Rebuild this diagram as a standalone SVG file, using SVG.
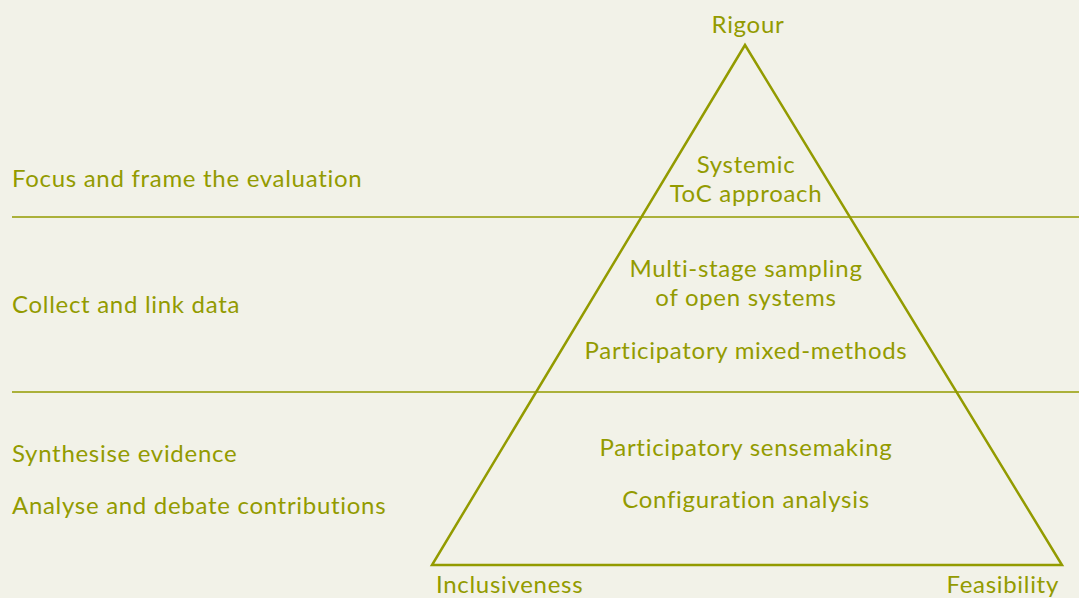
<svg xmlns="http://www.w3.org/2000/svg" width="1079" height="598" viewBox="0 0 1079 598">
  <style>
    .bg { fill: #f2f2e8; }
    .ln { stroke: #939b00; stroke-width: 1.6; fill: none; }
    .tri { stroke: #939b00; stroke-width: 2.5; fill: none; }
    text { font-family: "Lato", "Liberation Sans", sans-serif; font-size: 24px; letter-spacing: 0.7px; fill: #939b00; }
    .mid { text-anchor: middle; }
  </style>
  <rect class="bg" x="0" y="0" width="1079" height="598"/>

  <!-- stage dividers and triangle -->
  <g id="connectors">
    <line class="ln" x1="12" y1="217" x2="1079" y2="217"/>
    <line class="ln" x1="12" y1="392" x2="1079" y2="392"/>
    <polygon id="triangle" class="tri" points="745,45 432,565 1062,565" stroke-linejoin="miter"/>
  </g>

  <!-- corner labels -->
  <g id="rigour"><text class="mid" x="748" y="33">Rigour</text></g>
  <g id="inclusiveness"><text x="436" y="593">Inclusiveness</text></g>
  <g id="feasibility"><text x="1059" y="593" text-anchor="end">Feasibility</text></g>

  <!-- stage labels -->
  <g id="stage-focus"><text x="12" y="187">Focus and frame the evaluation</text></g>
  <g id="stage-collect"><text x="12" y="313">Collect and link data</text></g>
  <g id="stage-synthesise">
    <text x="12" y="462">Synthesise evidence</text>
    <text x="12" y="514">Analyse and debate contributions</text>
  </g>

  <!-- methods inside the triangle -->
  <g id="method-toc">
    <text class="mid" x="746" y="173">Systemic</text>
    <text class="mid" x="746" y="202">ToC approach</text>
  </g>
  <g id="method-sampling">
    <text class="mid" x="746" y="277">Multi-stage sampling</text>
    <text class="mid" x="746" y="306">of open systems</text>
  </g>
  <g id="method-mixed"><text class="mid" x="746" y="359">Participatory mixed-methods</text></g>
  <g id="method-sensemaking"><text class="mid" x="746" y="456">Participatory sensemaking</text></g>
  <g id="method-config"><text class="mid" x="746" y="508">Configuration analysis</text></g>
</svg>
